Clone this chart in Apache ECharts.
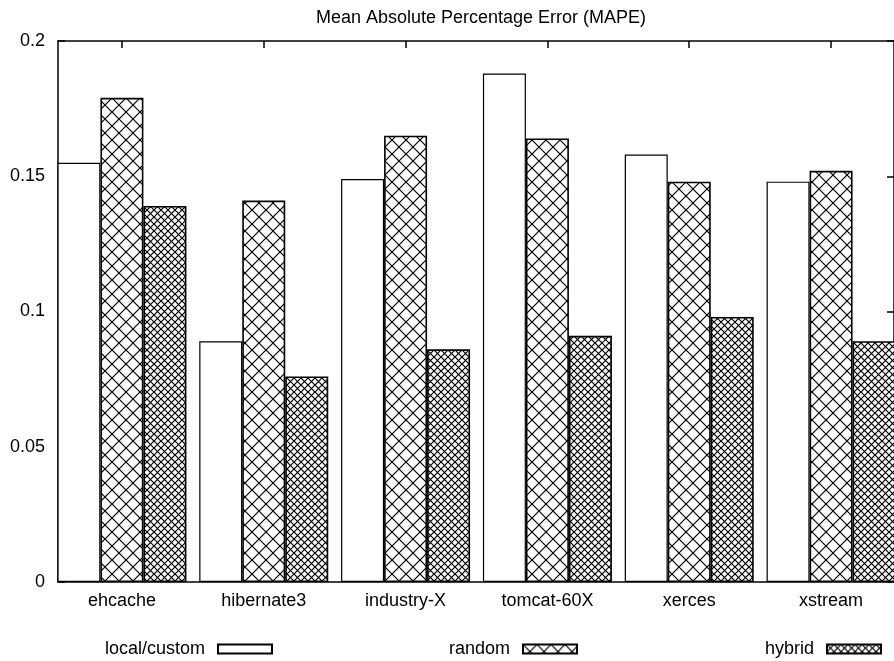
<!DOCTYPE html>
<html>
<head>
  <meta charset="utf-8">
  <title>MAPE</title>
  <script src="https://cdn.jsdelivr.net/npm/echarts@6/dist/echarts.min.js"></script>
  <style>
  html, body { margin: 0; padding: 0; background: #fff; }
  #main { width: 894px; height: 661px; }
  </style>
</head>
<body>
  <div id="main"></div>
  <script type="text/javascript">
  var categories = ['ehcache', 'hibernate3', 'industry-X', 'tomcat-60X', 'xerces', 'xstream'];
  var localCustom = [0.155, 0.089, 0.149, 0.188, 0.158, 0.148];
  var random = [0.179, 0.141, 0.165, 0.164, 0.148, 0.152];
  var hybrid = [0.139, 0.076, 0.086, 0.091, 0.098, 0.089];

  // crosshatch tiles, like gnuplot fill patterns
  function hatch(size) {
    var c = document.createElement('canvas');
    c.width = size; c.height = size;
    var g = c.getContext('2d');
    g.fillStyle = '#fff';
    g.fillRect(0, 0, size, size);
    g.strokeStyle = '#000';
    g.lineWidth = 1.2;
    g.beginPath();
    g.moveTo(-1, -1); g.lineTo(size + 1, size + 1);
    g.moveTo(size + 1, -1); g.lineTo(-1, size + 1);
    g.stroke();
    return { image: c, repeat: 'repeat' };
  }

  var font = 'Liberation Sans, Arial, sans-serif';
  var fs = 18;
  var xMin = -0.4507, xMax = 5.4437;
  var idx = categories.map(function (c, i) { return i; });
  function pairs(arr) { return arr.map(function (v, i) { return [i, v]; }); }

  var myChart = echarts.init(document.getElementById('main'));
  var frame = { onZero: false, lineStyle: { color: '#000', width: 1.5 } };
  var legendText = { fontFamily: font, fontSize: fs, lineHeight: 18, color: '#000', padding: [0, 8, 0, 0] };

  var option = {
    animation: false,
    backgroundColor: '#fff',
    textStyle: { fontFamily: font, color: '#000' },
    title: {
      text: 'Mean Absolute Percentage Error (MAPE)',
      left: 476,
      textAlign: 'center',
      top: 4,
      textStyle: { fontFamily: font, fontWeight: 'normal', fontSize: fs, color: '#000' }
    },
    grid: { left: 58, top: 41, bottom: 79, width: 837, containLabel: false },
    legend: [
      { data: ['local/custom'], right: 616, top: 635, align: 'right', icon: 'rect',
        itemWidth: 54, itemHeight: 9, textStyle: legendText },
      { data: ['random'], right: 311, top: 635, align: 'right', icon: 'rect',
        itemWidth: 54, itemHeight: 9, textStyle: legendText },
      { data: ['hybrid'], right: 7, top: 635, align: 'right', icon: 'rect',
        itemWidth: 54, itemHeight: 9, textStyle: legendText }
    ],
    xAxis: [{
      type: 'value', min: xMin, max: xMax, position: 'bottom',
      splitLine: { show: false },
      axisLine: frame,
      axisTick: { show: false },
      axisLabel: {
        customValues: idx, margin: 10, fontSize: fs, fontFamily: font, color: '#000',
        formatter: function (v) { return categories[Math.round(v)]; }
      }
    }, {
      type: 'value', min: xMin, max: xMax, position: 'top',
      splitLine: { show: false },
      axisLine: frame,
      axisTick: { inside: true, length: 7, customValues: idx, lineStyle: { color: '#000', width: 1.5 } },
      axisLabel: { show: false }
    }],
    yAxis: [{
      type: 'value', min: 0, max: 0.2, interval: 0.05, position: 'left',
      splitLine: { show: false },
      axisLine: Object.assign({ show: true }, frame),
      axisTick: { show: true, inside: true, length: 7, lineStyle: { color: '#000', width: 1.5 } },
      axisLabel: { margin: 13, fontSize: fs, fontFamily: font, color: '#000',
        formatter: function (v) { return String(+v.toFixed(2)); } }
    }, {
      type: 'value', min: 0, max: 0.2, interval: 0.05, position: 'right',
      splitLine: { show: false },
      axisLine: Object.assign({ show: true }, frame),
      axisTick: { show: true, inside: true, length: 7, lineStyle: { color: '#000', width: 1.5 } },
      axisLabel: { show: false }
    }],
    series: [{
      name: 'local/custom', type: 'bar', barWidth: 43, barGap: '0%',
      itemStyle: { color: '#fff', borderColor: '#000', borderWidth: 1.2 },
      data: pairs(localCustom)
    }, {
      name: 'random', type: 'bar', barWidth: 43, barGap: '0%',
      itemStyle: { color: hatch(14), borderColor: '#000', borderWidth: 1.6 },
      data: pairs(random)
    }, {
      name: 'hybrid', type: 'bar', barWidth: 43, barGap: '0%',
      itemStyle: { color: hatch(7), borderColor: '#000', borderWidth: 1.6 },
      data: pairs(hybrid)
    }]
  };
  myChart.setOption(option);
  window.onresize = myChart.resize;
  </script>
</body>
</html>
